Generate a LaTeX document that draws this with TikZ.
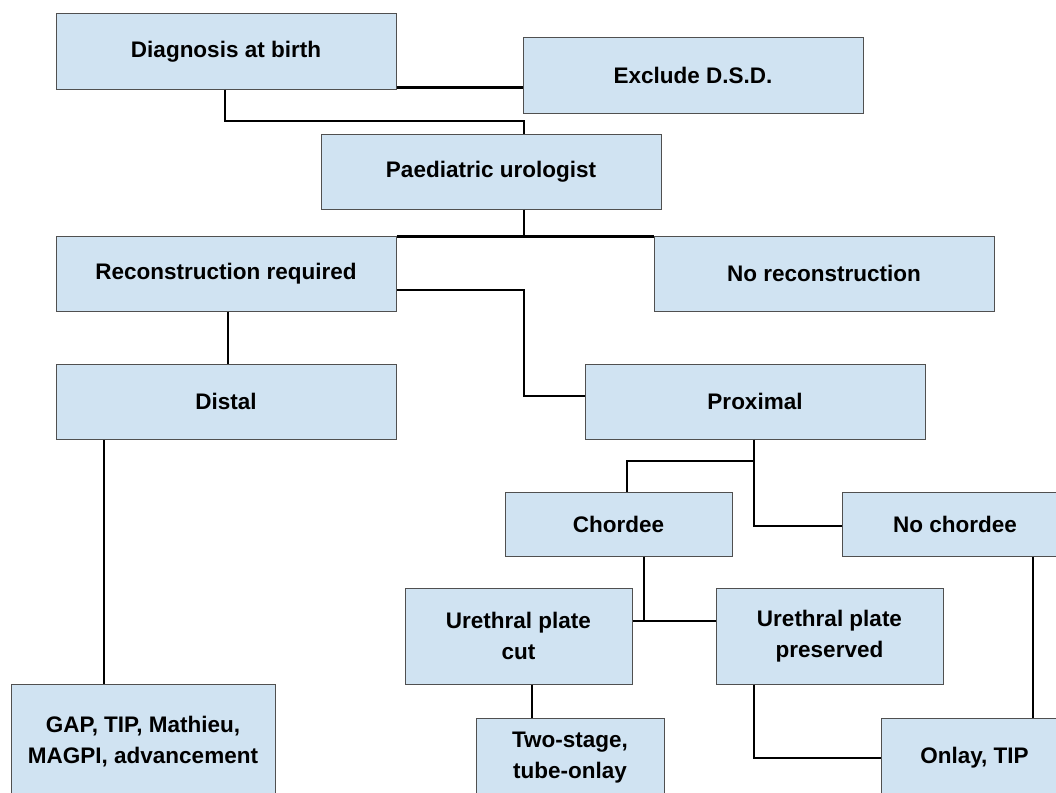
\documentclass[tikz,border=0pt]{standalone}
\usepackage{fontspec}
\setmainfont{Liberation Sans}
\definecolor{boxfill}{RGB}{208,227,242}
\definecolor{boxline}{RGB}{80,80,80}
\tikzset{
  fbox/.style={draw=boxline, line width=1pt, fill=boxfill, inner sep=0pt, align=center,
    font=\fontsize{22.5}{31}\selectfont\bfseries},
  conn/.style={draw=black, line width=2.2pt}
}
\begin{document}
\begin{tikzpicture}[x=1pt,y=-1pt]
\useasboundingbox (0,0) rectangle (1056,792);
\clip (0,0) rectangle (1056,792);
% boxes
\node[fbox, minimum width=340pt, minimum height=75pt] (diag) at (226,51.5) {Diagnosis at birth};
\node[fbox, minimum width=340pt, minimum height=75pt] (excl) at (693,75.5) {Exclude D.S.D.};
\node[fbox, minimum width=340pt, minimum height=75pt] (paed) at (491,171.5) {Paediatric urologist};
\node[fbox, minimum width=340pt, minimum height=75pt] (recon) at (226,273.5) {Reconstruction required};
\node[fbox, minimum width=340pt, minimum height=75pt] (norecon) at (824,273.5) {No reconstruction};
\node[fbox, minimum width=340pt, minimum height=75pt] (distal) at (226,401.5) {Distal};
\node[fbox, minimum width=340pt, minimum height=75pt] (prox) at (755,401.5) {Proximal};
\node[fbox, minimum width=227pt, minimum height=64pt] (chordee) at (618.5,524) {Chordee};
\node[fbox, minimum width=226pt, minimum height=64pt] (nochordee) at (955,524) {No chordee};
\node[fbox, minimum width=227pt, minimum height=96pt] (upcut) at (518.5,636) {Urethral plate\\cut};
\node[fbox, minimum width=227pt, minimum height=96pt] (uppres) at (829.5,636) {Urethral plate\\preserved};
\node[fbox, minimum width=264pt, minimum height=116pt] (gap) at (143,742) {GAP, TIP, Mathieu,\\MAGPI, advancement};
\node[fbox, minimum width=188pt, minimum height=80pt] (twostage) at (570,758) {Two-stage,\\tube-onlay};
\node[fbox, minimum width=187pt, minimum height=80pt] (onlay) at (974.5,758) {Onlay, TIP};
% junction coordinates
\coordinate (j1) at (524,121);
\coordinate (j2) at (524,237);
\coordinate (j3) at (524,396);
\coordinate (j5) at (753.7,461);
\coordinate (j6) at (644,621);
% connectors
\draw[conn] ([yshift=2pt]diag.south east) coordinate (a1) -- (a1 -| excl.west);
\draw[conn] ([xshift=-1pt]diag.south) |- (j1) -- (j1 |- paed.north);
\draw[conn] (j2 |- paed.south) -- (j2);
\draw[conn] ([yshift=-1pt]recon.north east) -- ([yshift=-1pt]norecon.north west);
\draw[conn] ([yshift=-16.5pt]recon.east) -| (j3) -- (j3 -| prox.west);
\draw[conn] ([xshift=2pt]recon.south) -- ([xshift=2pt]distal.north);
\draw[conn] ([xshift=-39pt]gap.north) -- ([xshift=-39pt]gap.north |- distal.south);
\draw[conn] (j5 |- prox.south) |- ([yshift=-2pt]nochordee.west);
\draw[conn] (j5) -| ([xshift=8.5pt]chordee.north);
\draw[conn] (j6 |- chordee.south) -- (j6);
\draw[conn] ([yshift=15pt]upcut.east) -- ([yshift=15pt]uppres.west);
\draw[conn] ([xshift=13.5pt]upcut.south) -- ([xshift=13.5pt]upcut.south |- twostage.north);
\draw[conn] ([xshift=-75.8pt]uppres.south) |- (onlay.west);
\draw[conn] ([xshift=78pt]nochordee.south) -- ([xshift=78pt]nochordee.south |- onlay.north);
\end{tikzpicture}
\end{document}
